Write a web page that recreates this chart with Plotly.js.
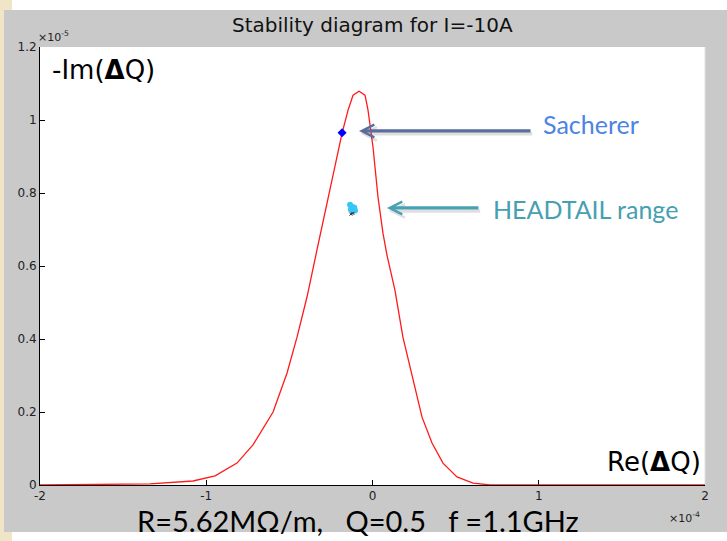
<!DOCTYPE html>
<html>
<head>
<meta charset="utf-8">
<script src="https://cdn.plot.ly/plotly-3.0.1.min.js"></script>
<style>
  html, body { margin: 0; padding: 0; background: #ffffff; }
  #chart { width: 727px; height: 541px; }
</style>
</head>
<body>
<div id="chart"></div>
<script>
// Stability diagram: Re(dQ) in units of 1e-4, -Im(dQ) in units of 1e-5
const reDQ = [-2, -1.6, -1.338, -1.08, -0.947, -0.815, -0.719, -0.598, -0.514, -0.454,
  -0.394, -0.334, -0.256, -0.183, -0.147, -0.117, -0.081, -0.045, -0.027, 0.003,
  0.033, 0.063, 0.087, 0.135, 0.183, 0.238, 0.298, 0.358, 0.424, 0.508,
  0.605, 0.707, 1.2, 2];
const imDQ = [0, 0.001, 0.003, 0.011, 0.025, 0.060, 0.110, 0.200, 0.307, 0.405,
  0.515, 0.644, 0.808, 0.964, 1.027, 1.068, 1.079, 1.068, 1.027, 0.926,
  0.789, 0.690, 0.630, 0.534, 0.405, 0.296, 0.186, 0.115, 0.060, 0.022,
  0.005, 0, 0, 0];

// Sacherer tune shift
const sachererRe = [-0.183];
const sachererIm = [0.965];

// HEADTAIL tune shifts
const headtailRe = [-0.135, -0.125, -0.115, -0.105, -0.12, -0.13, -0.11];
const headtailIm = [0.768, 0.762, 0.757, 0.752, 0.750, 0.755, 0.760];
const headtailEdgeRe = [-0.13, -0.118];
const headtailEdgeIm = [0.742, 0.744];

const xTicks = [-2, -1, 0, 1, 2];
const yTicks = [0, 0.2, 0.4, 0.6, 0.8, 1, 1.2];

const matlabFont = 'DejaVu Sans, Liberation Sans, sans-serif';
const slideFont = 'Lato, Open Sans, sans-serif';

const traces = [
  {
    x: reDQ, y: imDQ, mode: 'lines', type: 'scatter',
    line: { color: '#ff1a1a', width: 1.3 }, hoverinfo: 'skip'
  },
  {
    x: headtailRe, y: headtailIm, mode: 'markers', type: 'scatter',
    marker: { color: '#38c6f4', size: 6, symbol: 'circle' }, hoverinfo: 'skip'
  },
  {
    x: headtailEdgeRe, y: headtailEdgeIm, mode: 'markers', type: 'scatter',
    marker: { color: '#333333', size: 3, symbol: 'x-thin-open', line: { width: 1, color: '#333333' } },
    hoverinfo: 'skip'
  },
  {
    x: sachererRe, y: sachererIm, mode: 'markers', type: 'scatter',
    marker: { color: '#0000ff', size: 7, symbol: 'diamond' }, hoverinfo: 'skip'
  }
];

// paper coordinates of the grey figure panel and the slide border
const L = 40, T = 47, W = 665, H = 438;
const px = v => (v - L) / W;
const py = v => (T + H - v) / H;

const shapes = [
  { type: 'rect', xref: 'paper', yref: 'paper', layer: 'below',
    x0: px(0), x1: px(12), y0: py(541), y1: py(0), line: { width: 0 }, fillcolor: '#f0e5c7' },
  { type: 'rect', xref: 'paper', yref: 'paper', layer: 'below',
    x0: px(4), x1: px(727), y0: py(532), y1: py(10), line: { width: 0 }, fillcolor: '#c9c9c9' },
  { type: 'rect', xref: 'paper', yref: 'paper', layer: 'below',
    x0: 0, x1: 1, y0: 0, y1: 1, line: { width: 0 }, fillcolor: '#ffffff' },
  { type: 'line', xref: 'paper', yref: 'paper', layer: 'below',
    x0: 1, x1: 1, y0: 0, y1: 1, line: { width: 1, color: '#e2e2e2' } }
];

const annotations = [
  { text: 'Stability diagram for I=-10A', xref: 'paper', yref: 'paper',
    x: px(372), y: py(25), showarrow: false, xanchor: 'center', yanchor: 'middle',
    font: { family: matlabFont, size: 20, color: '#111111' } },
  { text: '×10<sup>-5</sup>', xref: 'paper', yref: 'paper',
    x: px(36), y: py(46), showarrow: false, xanchor: 'left', yanchor: 'bottom',
    font: { family: matlabFont, size: 11, color: '#222222' } },
  { text: '×10<sup>-4</sup>', xref: 'paper', yref: 'paper',
    x: px(667), y: py(527), showarrow: false, xanchor: 'left', yanchor: 'bottom',
    font: { family: matlabFont, size: 11, color: '#222222' } },
  { text: '-Im(<b>Δ</b>Q)', xref: 'paper', yref: 'paper',
    x: px(50), y: py(70), showarrow: false, xanchor: 'left', yanchor: 'middle',
    font: { family: matlabFont, size: 26, color: '#000000' } },
  { text: 'Re(<b>Δ</b>Q)', xref: 'paper', yref: 'paper',
    x: px(703), y: py(462), showarrow: false, xanchor: 'right', yanchor: 'middle',
    font: { family: matlabFont, size: 26, color: '#000000' } },
  // arrow shadows
  { x: -0.081 + 0.01, y: 0.97 - 0.008, xref: 'x', yref: 'y', text: '', showarrow: true,
    ax: 173, ay: 0, arrowhead: 5, arrowsize: 0.75, arrowwidth: 3.5, arrowcolor: 'rgba(0,0,0,0.12)' },
  { x: 0.087 + 0.01, y: 0.759 - 0.008, xref: 'x', yref: 'y', text: '', showarrow: true,
    ax: 93, ay: 0, arrowhead: 5, arrowsize: 0.75, arrowwidth: 3.5, arrowcolor: 'rgba(0,0,0,0.12)' },
  // arrows
  { x: -0.081, y: 0.97, xref: 'x', yref: 'y', text: '', showarrow: true,
    ax: 173, ay: 0, arrowhead: 5, arrowsize: 0.75, arrowwidth: 3.3, arrowcolor: '#5a6d9c' },
  { x: 0.087, y: 0.759, xref: 'x', yref: 'y', text: '', showarrow: true,
    ax: 93, ay: 0, arrowhead: 5, arrowsize: 0.75, arrowwidth: 3.3, arrowcolor: '#48a1b3' },
  { text: 'Sacherer', xref: 'paper', yref: 'paper',
    x: px(541), y: py(124), showarrow: false, xanchor: 'left', yanchor: 'middle',
    font: { family: slideFont, size: 25, color: '#4c83e4' } },
  { text: 'HEADTAIL range', xref: 'paper', yref: 'paper',
    x: px(491), y: py(209), showarrow: false, xanchor: 'left', yanchor: 'middle',
    font: { family: slideFont, size: 25, color: '#45a0b1' } },
  { text: 'R=5.62MΩ/m,\u00a0\u00a0\u00a0Q=0.5\u00a0\u00a0\u00a0f =1.1GHz', xref: 'paper', yref: 'paper',
    x: px(135), y: py(520), showarrow: false, xanchor: 'left', yanchor: 'middle',
    font: { family: slideFont, size: 29, color: '#000000' } }
];

const axisCommon = {
  showgrid: false, zeroline: false, showline: true, linecolor: '#000000', linewidth: 1,
  ticks: 'inside', ticklen: 5, tickwidth: 1, tickcolor: '#000000',
  tickfont: { family: matlabFont, size: 12, color: '#222222' },
  layer: 'below traces', fixedrange: true
};

const layout = {
  width: 727, height: 541,
  margin: { l: L, r: 727 - L - W, t: T, b: 541 - T - H, pad: 0 },
  paper_bgcolor: '#ffffff', plot_bgcolor: 'rgba(0,0,0,0)',
  showlegend: false,
  xaxis: Object.assign({}, axisCommon, {
    range: [-2, 2], tickvals: xTicks, ticktext: xTicks.map(String)
  }),
  yaxis: Object.assign({}, axisCommon, {
    range: [0, 1.2], tickvals: yTicks, ticktext: yTicks.map(String)
  }),
  shapes: shapes,
  annotations: annotations
};

Plotly.newPlot('chart', traces, layout, { displayModeBar: false, staticPlot: true });
</script>
</body>
</html>
